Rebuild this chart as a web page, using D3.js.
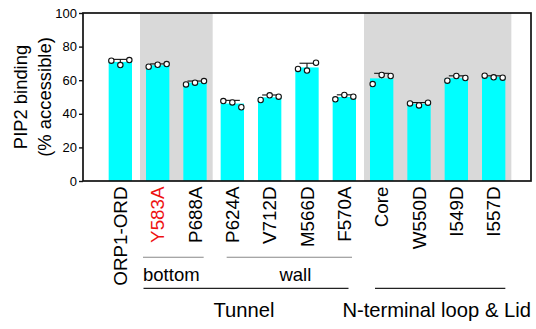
<!DOCTYPE html>
<html>
<head>
<meta charset="utf-8">
<script src="https://cdn.jsdelivr.net/npm/d3@7"></script>
<style>
  html, body { margin: 0; padding: 0; background: #fff; }
  svg { display: block; font-family: "Liberation Sans", Arial, Helvetica, sans-serif; }
</style>
</head>
<body>
<svg id="chart" width="536" height="329"></svg>
<script>
// ---- data ----
const categories = ["ORP1-ORD","Y583A","P688A","P624A","V712D","M566D","F570A","Core","W550D","I549D","I557D"];
const means = [70.9, 68.9, 58.5, 46.1, 49.8, 67.6, 50.0, 61.1, 45.9, 61.2, 62.0];
const sds   = [1.5, 0.8, 1.0, 1.9, 1.4, 2.5, 1.3, 3.0, 0.8, 1.4, 0.6];
const rep1  = [71.6, 68.0, 57.5, 47.6, 48.2, 66.7, 48.6, 57.7, 46.2, 59.7, 62.7];
const rep2  = [69.0, 69.2, 58.5, 46.8, 51.0, 65.7, 51.2, 63.1, 45.0, 62.5, 61.7];
const rep3  = [72.0, 69.6, 59.5, 43.9, 50.2, 70.4, 50.2, 62.5, 46.6, 61.3, 61.5];
const yTicks = [0, 20, 40, 60, 80, 100];
const highlighted = ["Y583A"];
const shadedRanges = [["Y583A","P688A"], ["Core","I557D"]];
const subGroups = [
  {label: "bottom", from: "Y583A", to: "P688A"},
  {label: "wall", from: "P624A", to: "F570A"}
];
const mainGroups = [
  {label: "Tunnel", from: "Y583A", to: "F570A"},
  {label: "N-terminal loop & Lid", from: "Core", to: "I557D"}
];
const yTitle = ["PIP2 binding", "(% accessible)"];

// ---- layout / style ----
const margin = {left: 83, right: 5, top: 13, bottom: 148};
const W = 536, H = 329;
const plotR = W - margin.right, plotB = H - margin.bottom;
const lineTweaks = { // pixel tweaks for bracket lines and text
  "bottom": {a: -3, b: -3, t: -2},
  "wall": {a: 6, b: -4, t: 6},
  "Tunnel": {a: -2.5, b: -7.5, t: -2},
  "N-terminal loop & Lid": {a: 5, b: 0, t: -3.5}
};

const svg = d3.select("#chart");

const x = d3.scaleBand().domain(categories).range([margin.left, plotR])
  .paddingInner(0.375).paddingOuter(0.6875);
const y = d3.scaleLinear().domain([0, 100]).range([plotB, margin.top]);
const bw = x.bandwidth();

// shaded bands
svg.append("g").selectAll("rect").data(shadedRanges).join("rect")
  .attr("x", d => x(d[0]) - 6)
  .attr("y", margin.top)
  .attr("width", d => x(d[1]) + bw + 6 - (x(d[0]) - 6))
  .attr("height", plotB - margin.top)
  .attr("fill", "#d9d9d9");

// bars
svg.append("g").selectAll("rect").data(categories).join("rect")
  .attr("x", d => x(d))
  .attr("y", (d, i) => y(means[i]))
  .attr("width", bw)
  .attr("height", (d, i) => plotB - y(means[i]))
  .attr("fill", "#00ffff");

// error bars (upper)
const eb = svg.append("g").attr("stroke", "#111").attr("stroke-width", 1.1);
categories.forEach((c, i) => {
  const cx = x(c) + bw / 2;
  eb.append("line").attr("x1", cx).attr("x2", cx)
    .attr("y1", y(means[i])).attr("y2", y(means[i] + sds[i]));
  eb.append("line").attr("x1", cx - 7.5).attr("x2", cx + 7.5)
    .attr("y1", y(means[i] + sds[i])).attr("y2", y(means[i] + sds[i]));
});

// replicate dots
const reps = [rep1, rep2, rep3];
const offs = [-9, 0, 9];
const dg = svg.append("g");
categories.forEach((c, i) => {
  reps.forEach((r, k) => {
    dg.append("circle")
      .attr("cx", x(c) + bw / 2 + offs[k])
      .attr("cy", y(r[i]))
      .attr("r", 2.7)
      .attr("fill", "#fff")
      .attr("stroke", "#111")
      .attr("stroke-width", 1.1);
  });
});

// frame
svg.append("rect")
  .attr("x", margin.left).attr("y", margin.top)
  .attr("width", plotR - margin.left).attr("height", plotB - margin.top)
  .attr("fill", "none").attr("stroke", "#111").attr("stroke-width", 1.7);

// y axis
const yAxis = svg.append("g")
  .attr("transform", `translate(${margin.left},0)`)
  .call(d3.axisLeft(y).tickValues(yTicks).tickSize(4).tickPadding(2));
yAxis.select(".domain").remove();
yAxis.selectAll(".tick line").attr("stroke", "#111").attr("stroke-width", 1.4);
yAxis.selectAll(".tick text").attr("font-size", 13).attr("fill", "#000")
  .attr("font-family", "Liberation Sans, Arial, sans-serif");

// y title
const yt = [26.5, 51];
yTitle.forEach((t, k) => {
  svg.append("text")
    .attr("transform", `translate(${yt[k]},${(margin.top + plotB) / 2}) rotate(-90)`)
    .attr("text-anchor", "middle")
    .attr("font-size", 18.4)
    .attr("fill", "#000")
    .text(t);
});

// x labels
svg.append("g").selectAll("text").data(categories).join("text")
  .attr("transform", d => `translate(${x(d) + bw / 2},${plotB + 5.5}) rotate(-90)`)
  .attr("text-anchor", "end")
  .attr("dy", "0.35em")
  .attr("font-size", 18.8)
  .attr("fill", d => highlighted.includes(d) ? "#ee1111" : "#000")
  .text(d => d);

// group brackets
function drawGroup(g, ly, ty, fs, color, sw) {
  const tw = lineTweaks[g.label];
  const x0 = x(g.from) + tw.a, x1 = x(g.to) + bw + tw.b;
  svg.append("line").attr("x1", x0).attr("x2", x1).attr("y1", ly).attr("y2", ly)
    .attr("stroke", color).attr("stroke-width", sw);
  svg.append("text").attr("x", (x0 + x1) / 2 + tw.t).attr("y", ty)
    .attr("text-anchor", "middle").attr("font-size", fs).attr("fill", "#000")
    .text(g.label);
}
subGroups.forEach(g => drawGroup(g, 257.3, 281, 18.5, "#888", 1.1));
mainGroups.forEach(g => drawGroup(g, 288.3, 316.7, 20.2, "#222", 1.3));
</script>
</body>
</html>
